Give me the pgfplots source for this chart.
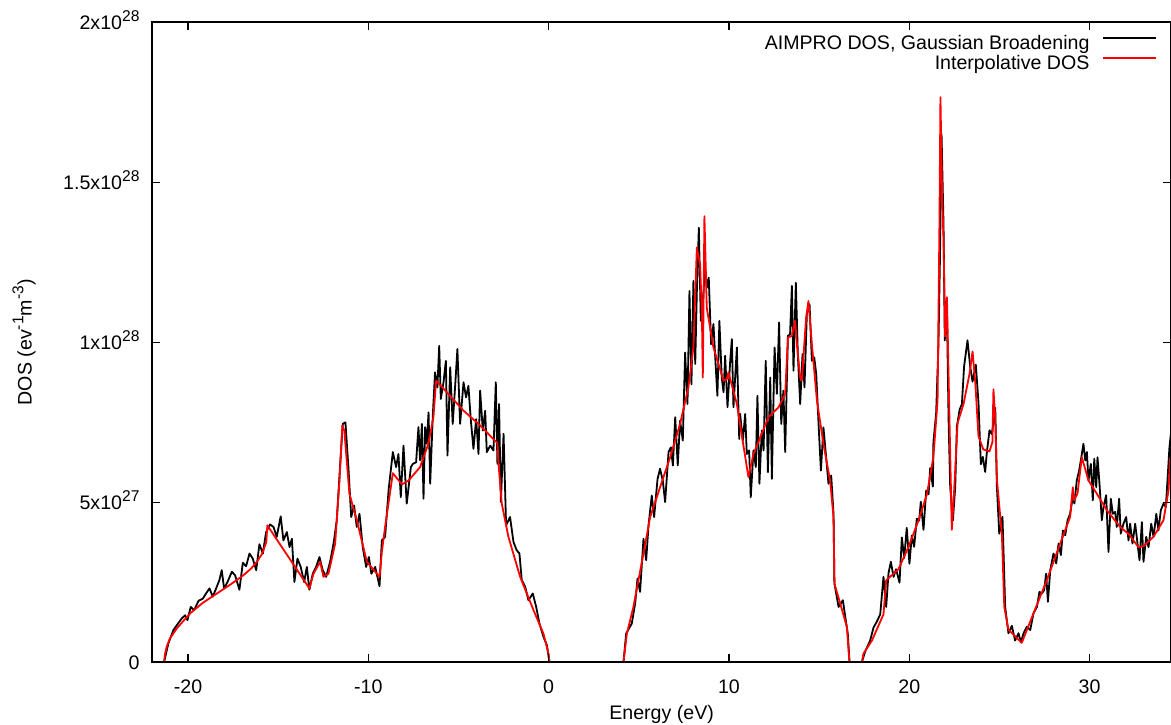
\documentclass[border=0pt]{standalone}
\usepackage{fontspec}
\setmainfont{Liberation Sans}
\usepackage{pgfplots}
\pgfplotsset{compat=1.18}
\newcommand{\sps}[1]{\raisebox{0.42em}{\fontsize{7.8pt}{8pt}\selectfont #1}}

\begin{document}
\begin{tikzpicture}[font=\fontsize{9.8pt}{11.8pt}\selectfont]
\begin{axis}[
  scale only axis, width=509.1pt, height=320pt,
  xmin=-21.97, xmax=34.5, ymin=0, ymax=20,
  axis on top,
  axis line style={line width=1pt},
  xtick={-20,-10,0,10,20,30}, xticklabels={-20,-10,0,10,20,30},
  ytick={0,5,10,15,20}, yticklabels={0,5x10\sps{27},1x10\sps{28},1.5x10\sps{28},2x10\sps{28}},
  tick align=inside, major tick length=4pt,
  every tick/.style={black, line width=0.6pt},
  xticklabel style={yshift=-5pt},
  yticklabel style={anchor=base east, yshift=-3.5pt, xshift=-3pt},
  xlabel={Energy (eV)}, ylabel={DOS (ev\sps{-1}m\sps{-3})},
  xlabel style={at={(axis description cs:0.5,-0.082)}, anchor=center},
  ylabel style={at={(axis description cs:-0.1262,0.5)}, anchor=center},
  legend plot pos=right, legend cell align=right,
  legend style={at={(axis description cs:0.9868,0.9800)}, anchor=north east, draw=none, fill=none, inner sep=0pt, outer sep=0pt,
     nodes={inner sep=0pt, text height=7pt, text depth=3pt},
     /tikz/every odd column/.append style={column sep=6.5pt}},
  legend image code/.code={\draw[#1] (0pt,3.5pt) -- (26.5pt,3.5pt);},
]
\addplot[black, line width=0.9pt, line join=round] coordinates {
(-21.33,0) (-21.09,0.59) (-20.81,1.01) (-20.62,1.16) (-20.35,1.37) (-20.16,1.47) (-20.03,1.32) (-19.85,1.73) (-19.66,1.63) (-19.42,1.92)
(-19.18,1.99) (-19.00,2.15) (-18.81,2.31) (-18.63,2.05) (-18.44,2.31) (-18.26,2.57) (-18.13,2.88) (-18.00,2.31) (-17.81,2.51) (-17.57,2.83)
(-17.39,2.72) (-17.15,2.27) (-16.96,3.11) (-16.78,3.00) (-16.59,3.40) (-16.41,3.24) (-16.22,2.88) (-16.04,3.69) (-15.85,3.40) (-15.67,4.07)
(-15.45,4.31) (-15.26,4.23) (-15.08,3.92) (-14.86,4.56) (-14.71,3.81) (-14.52,4.07) (-14.37,3.60) (-14.24,3.86) (-14.10,2.51) (-13.93,3.24)
(-13.75,2.98) (-13.56,2.51) (-13.41,2.98) (-13.27,2.27) (-13.08,2.77) (-12.90,2.98) (-12.71,3.29) (-12.53,2.88) (-12.34,2.67) (-12.12,3.14)
(-11.93,3.71) (-11.75,4.44) (-11.56,6.20) (-11.42,7.45) (-11.27,7.50) (-11.10,6.05) (-10.95,4.54) (-10.79,4.90) (-10.64,4.23) (-10.49,4.64)
(-10.31,3.60) (-10.12,2.98) (-9.97,3.29) (-9.83,2.77) (-9.62,2.98) (-9.38,2.38) (-9.25,3.81) (-9.07,3.92) (-8.87,5.42) (-8.64,6.57)
(-8.46,6.10) (-8.33,6.51) (-8.20,5.16) (-8.05,6.77) (-7.87,4.96) (-7.64,6.10) (-7.53,6.20) (-7.35,6.25) (-7.22,7.35) (-7.13,6.31)
(-7.03,7.45) (-6.94,5.11) (-6.85,7.35) (-6.76,6.83) (-6.66,7.81) (-6.57,5.58) (-6.42,7.76) (-6.30,9.06) (-6.17,8.59) (-6.07,9.89)
(-5.98,8.23) (-5.83,8.75) (-5.70,9.42) (-5.61,6.46) (-5.46,9.22) (-5.32,7.45) (-5.19,8.59) (-5.06,9.79) (-4.91,7.45) (-4.72,8.75)
(-4.58,8.28) (-4.45,8.64) (-4.32,7.60) (-4.17,6.67) (-4.02,7.60) (-3.89,6.51) (-3.80,8.49) (-3.65,7.24) (-3.52,7.86) (-3.43,6.57)
(-3.24,6.77) (-3.06,6.62) (-2.93,8.75) (-2.84,6.20) (-2.75,8.07) (-2.65,5.01) (-2.50,7.14) (-2.36,4.28) (-2.14,4.54) (-1.95,3.76)
(-1.77,3.50) (-1.62,3.40) (-1.49,2.57) (-1.30,2.36) (-1.12,1.94) (-0.88,2.15) (-0.69,1.73) (-0.51,1.21) (-0.29,0.80) (-0.10,0.54)
(0.05,0) (4.15,0) (4.30,0.90) (4.61,1.21) (4.80,1.84) (4.93,2.62) (5.07,2.20) (5.26,3.86) (5.41,3.19) (5.54,4.28)
(5.72,5.21) (5.85,4.54) (6.04,5.73) (6.18,6.05) (6.33,5.68) (6.46,5.01) (6.65,6.57) (6.78,6.72) (6.89,6.15) (7.02,7.66)
(7.16,6.15) (7.29,7.55) (7.44,6.93) (7.57,9.68) (7.70,8.07) (7.81,11.60) (7.92,8.69) (8.03,11.92) (8.13,9.32) (8.22,11.60)
(8.33,13.58) (8.44,10.67) (8.59,11.60) (8.68,12.33) (8.77,11.71) (8.88,12.02) (9.01,9.94) (9.14,10.57) (9.29,9.01) (9.36,8.33)
(9.47,10.67) (9.60,8.90) (9.70,8.44) (9.79,9.58) (9.92,7.97) (10.07,9.42) (10.16,10.10) (10.25,7.97) (10.44,9.84) (10.57,6.98)
(10.62,7.76) (10.77,6.93) (10.90,7.76) (10.99,6.51) (11.12,6.62) (11.21,5.16) (11.36,6.62) (11.49,6.10) (11.58,8.33) (11.69,5.58)
(11.82,7.24) (11.92,6.62) (12.04,9.42) (12.16,5.94) (12.29,8.90) (12.38,5.73) (12.53,9.84) (12.66,8.39) (12.78,10.62) (12.90,7.45)
(13.02,8.49) (13.12,6.57) (13.27,10.20) (13.39,10.25) (13.49,11.76) (13.58,9.11) (13.71,11.86) (13.82,9.63) (13.95,8.07) (14.08,9.63)
(14.19,8.59) (14.32,10.88) (14.47,11.19) (14.60,9.42) (14.73,9.53) (14.84,9.01) (14.97,7.45) (15.10,5.99) (15.24,7.34) (15.39,6.41)
(15.52,5.58) (15.67,5.84) (15.80,4.64) (15.85,2.46) (16.08,1.73) (16.32,1.94) (16.45,1.42) (16.59,0.90) (16.69,0) (17.37,0)
(17.55,0.33) (17.83,0.68) (18.02,1.09) (18.20,1.27) (18.39,1.50) (18.57,2.67) (18.72,1.73) (18.85,2.79) (18.98,3.14) (19.13,2.67)
(19.27,2.91) (19.46,2.49) (19.59,3.90) (19.72,3.26) (19.86,4.20) (20.01,3.08) (20.14,3.96) (20.27,3.61) (20.42,4.49) (20.55,4.43)
(20.64,5.02) (20.79,4.14) (20.94,5.37) (21.07,5.25) (21.16,6.07) (21.31,5.49) (21.34,6.89) (21.49,7.77) (21.62,9.94) (21.71,12.87)
(21.79,16.51) (21.90,13.70) (21.97,10.06) (22.08,11.35) (22.18,7.60) (22.27,5.49) (22.42,4.43) (22.55,5.49) (22.64,7.36) (22.79,7.89)
(22.92,8.07) (23.04,9.24) (23.23,10.06) (23.38,9.24) (23.51,8.77) (23.69,9.30) (23.84,8.12) (23.97,6.19) (24.08,6.42) (24.21,5.95)
(24.30,6.54) (24.45,7.25) (24.58,7.13) (24.77,7.95) (24.86,5.49) (24.99,4.02) (25.17,4.55) (25.32,1.73) (25.50,0.91) (25.69,1.14)
(25.87,0.68) (26.06,0.91) (26.19,0.62) (26.34,0.91) (26.52,1.11) (26.71,1.01) (26.89,1.53) (27.08,1.73) (27.22,2.20) (27.35,2.15)
(27.48,2.25) (27.59,2.77) (27.69,1.89) (27.82,2.88) (28.00,3.40) (28.15,3.09) (28.28,3.71) (28.41,3.35) (28.52,4.12) (28.65,3.97)
(28.78,4.44) (28.92,4.64) (29.07,5.16) (29.16,4.96) (29.29,5.68) (29.42,5.99) (29.53,6.36) (29.66,6.83) (29.76,6.31) (29.85,6.57)
(29.94,5.68) (30.07,6.20) (30.18,5.06) (30.26,6.36) (30.37,5.47) (30.44,6.41) (30.55,5.58) (30.68,4.44) (30.77,4.85) (30.92,5.22)
(31.05,3.45) (31.18,5.11) (31.29,4.64) (31.42,4.70) (31.51,4.23) (31.64,5.11) (31.73,4.02) (31.88,4.33) (32.03,4.54) (32.16,3.81)
(32.25,4.33) (32.38,3.71) (32.53,4.33) (32.66,3.71) (32.77,3.19) (32.90,4.38) (32.99,3.14) (33.14,3.92) (33.27,3.60) (33.42,4.33)
(33.55,3.92) (33.70,4.64) (33.82,4.12) (33.95,4.75) (34.10,4.96) (34.23,4.85) (34.32,5.68) (34.43,6.72) (34.51,7.14)
};
\addlegendentry{AIMPRO DOS, Gaussian Broadening}
\addplot[red, line width=0.9pt, line join=round] coordinates {
(-21.33,0) (-21.28,0.25) (-21.18,0.49) (-21.00,0.75) (-20.62,1.06) (-20.20,1.33) (-19.88,1.53) (-19.20,1.85) (-18.40,2.15) (-17.60,2.45)
(-16.93,2.72) (-16.50,2.93) (-16.18,3.14) (-15.90,3.38) (-15.72,3.66) (-15.66,3.75) (-15.60,4.28)
(-13.27,2.31) (-13.04,2.77) (-12.67,3.14) (-12.49,2.67) (-12.21,2.77) (-11.84,3.71) (-11.60,5.68) (-11.44,7.40) (-11.33,7.24) (-11.05,5.27)
(-10.64,4.44) (-10.08,3.14) (-9.38,2.67) (-9.25,3.45) (-9.07,4.23) (-8.64,5.91) (-8.14,5.56) (-7.77,5.68) (-7.13,6.10) (-6.67,6.83)
(-6.39,7.66) (-6.24,8.80) (-5.65,8.44) (-4.73,7.87) (-3.80,7.40) (-2.84,6.85) (-2.78,6.20) (-2.60,4.96) (-2.23,3.92) (-1.58,2.67)
(-0.84,1.63) (-0.29,0.90) (-0.01,0.28) (0.04,0) (4.15,0) (4.34,0.90) (4.70,1.73) (5.26,3.40) (5.63,4.54) (6.18,5.47)
(6.74,6.41) (7.29,7.45) (7.75,8.59) (8.03,9.84) (8.22,12.96) (8.40,12.44) (8.50,10.88) (8.55,8.90) (8.64,13.94) (8.77,11.08)
(9.14,9.84) (9.70,8.80) (9.88,8.85) (9.97,9.06) (10.44,8.07) (11.08,5.79) (11.36,6.51) (12.19,7.66) (12.75,7.97) (13.12,8.39)
(13.27,10.15) (13.49,10.20) (13.67,10.67) (13.77,9.94) (13.95,8.90) (14.04,8.80) (14.28,10.77) (14.41,11.29) (14.60,9.94) (14.88,8.18)
(15.24,6.83) (15.61,5.68) (15.80,4.54) (15.85,2.46) (16.17,1.84) (16.54,1.11) (16.68,0) (17.37,0) (17.46,0.27) (17.93,0.68)
(18.57,1.50) (18.72,2.56) (19.40,2.91) (19.96,3.61) (20.51,4.43) (20.98,5.25) (21.34,6.42) (21.57,8.18) (21.67,13.46) (21.73,17.66)
(21.82,14.63) (21.90,13.23) (21.99,10.18) (22.09,11.41) (22.23,7.60) (22.36,4.14) (22.49,5.37) (22.68,7.48) (23.01,8.07) (23.34,9.01)
(23.51,9.71) (23.66,8.76) (23.84,7.06) (24.11,6.65) (24.45,6.59) (24.61,6.88) (24.67,8.53) (24.77,7.60) (24.86,5.72) (25.14,3.96)
(25.27,1.73) (25.50,1.02) (26.24,0.61) (26.89,1.53) (27.63,2.57) (28.37,3.71) (28.92,4.54) (29.07,5.47) (29.14,5.06) (29.33,5.27)
(29.57,6.41) (29.94,5.68) (30.40,5.27) (30.96,4.75) (31.70,4.23) (32.03,4.07) (32.16,4.02) (32.71,3.60) (32.99,3.63) (33.54,3.92)
(34.10,4.44) (34.38,5.37) (34.47,6.36)
};
\addlegendentry{Interpolative DOS}
\end{axis}
\pgfresetboundingbox
\useasboundingbox (-76.25pt,-30.85pt) rectangle (509.25pt,331.15pt);
\end{tikzpicture}
\end{document}
